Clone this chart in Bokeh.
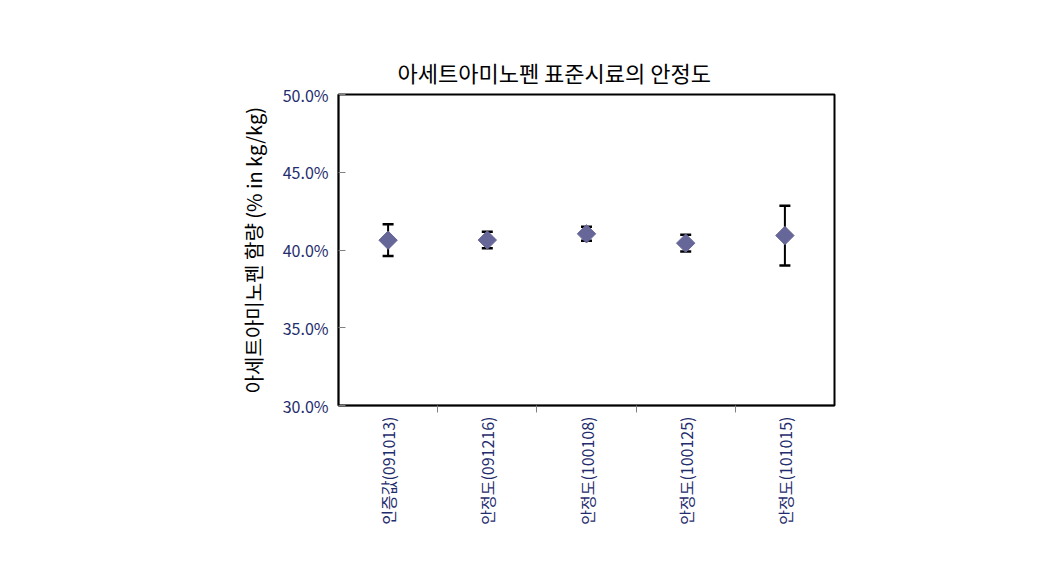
import math
from bokeh.plotting import figure
from bokeh.models import ColumnDataSource, FixedTicker, PrintfTickFormatter, Range1d, Title
from bokeh.embed import file_html
from bokeh.resources import INLINE

# ---- data ----
categories = ["인증값(091013)", "안정도(091216)", "안정도(100108)", "안정도(100125)", "안정도(101015)"]
values = [40.63, 40.64, 41.04, 40.44, 40.93]
errors = [1.02, 0.53, 0.45, 0.54, 1.92]
y_ticks = [30, 35, 40, 45, 50]

FONT = "Noto Sans CJK KR"
NAVY = "#1f2d6e"
MARK = "#666699"

xs = list(range(1, len(categories) + 1))
src = ColumnDataSource(dict(
    x=xs, y=values,
    lo=[v - e for v, e in zip(values, errors)],
    hi=[v + e for v, e in zip(values, errors)],
))

p = figure(width=1057, height=564, output_backend="svg", toolbar_location=None,
           x_range=Range1d(0.5, len(categories) + 0.5), y_range=Range1d(30, 50),
           min_border_left=338, min_border_right=223, min_border_top=94, min_border_bottom=159)
p.title = Title(text="아세트아미노펜 표준시료의 안정도", align="left", offset=59,
                text_font=FONT, text_font_size="22px", text_font_style="normal",
                text_color="#000000", standoff=14)

p.xgrid.visible = False
p.ygrid.visible = False
p.outline_line_color = "#000000"
p.outline_line_width = 2
p.background_fill_color = "white"
p.border_fill_color = "white"

# y axis
ya = p.yaxis[0]
ya.ticker = FixedTicker(ticks=y_ticks)
ya.formatter = PrintfTickFormatter(format="%.1f%%")
ya.major_tick_in = 7
ya.major_tick_out = 0
ya.minor_tick_line_color = None
ya.major_tick_line_color = "#808080"
ya.axis_line_color = "#000000"
ya.axis_line_width = 1.5
ya.major_label_text_font = FONT
ya.major_label_text_font_size = "16px"
ya.major_label_text_color = NAVY
ya.major_label_standoff = 10
ya.axis_label = "아세트아미노펜 함량 (% in kg/kg)"
ya.axis_label_text_font = FONT
ya.axis_label_text_font_size = "20px"
ya.axis_label_text_font_style = "normal"
ya.axis_label_text_color = "#000000"
ya.axis_label_standoff = 12

# x axis
xa = p.xaxis[0]
xa.ticker = FixedTicker(ticks=xs, minor_ticks=[i + 0.5 for i in xs[:-1]])
xa.major_label_overrides = {i: c for i, c in zip(xs, categories)}
xa.major_label_orientation = math.pi / 2
xa.major_tick_out = 0
xa.major_tick_in = 0
xa.minor_tick_out = 7
xa.minor_tick_in = 0
xa.minor_tick_line_color = "#808080"
xa.axis_line_color = "#000000"
xa.axis_line_width = 1.5
xa.major_label_text_font = FONT
xa.major_label_text_font_size = "16px"
xa.major_label_text_color = NAVY
xa.major_label_standoff = 4

# error bars
p.segment(x0="x", y0="lo", x1="x", y1="hi", source=src, line_color="#000000", line_width=2)
p.scatter(x="x", y="lo", source=src, marker="dash", size=11, line_color="#000000", line_width=2.5)
p.scatter(x="x", y="hi", source=src, marker="dash", size=11, line_color="#000000", line_width=2.5)
# markers
p.scatter(x="x", y="y", source=src, marker="square", angle=math.pi / 4, size=13,
          fill_color=MARK, line_color=MARK)

open("out.html", "w").write(file_html(p, INLINE))
